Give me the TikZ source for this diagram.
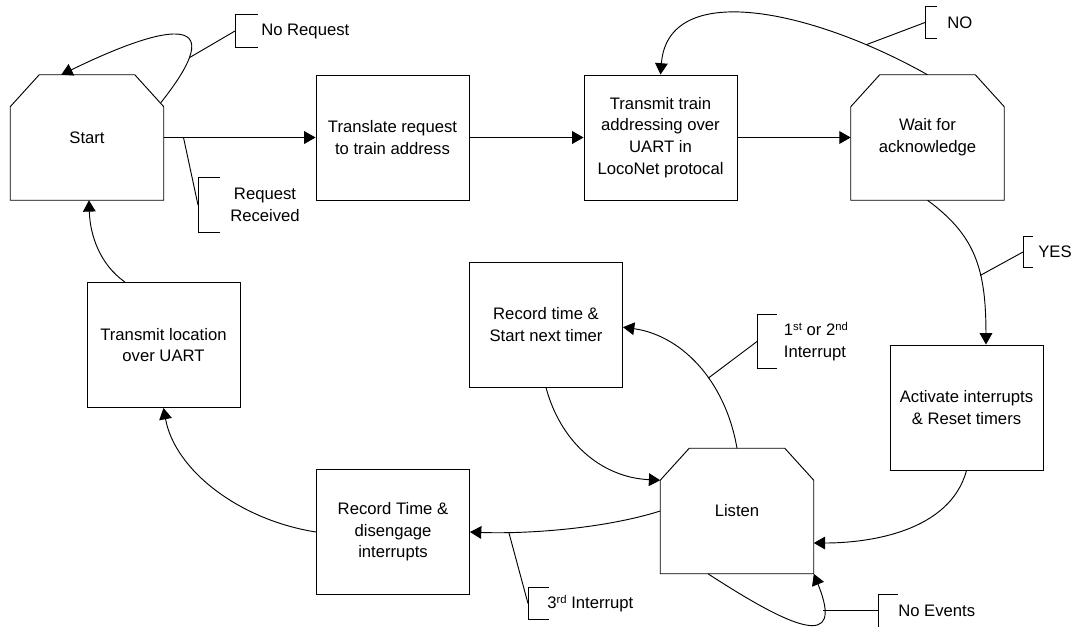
\documentclass[tikz,border=0pt]{standalone}
\usepackage{fontspec}
\setmainfont{Liberation Sans}
\usetikzlibrary{arrows.meta}
\newcommand\supr[1]{\raisebox{0.6ex}{\fontsize{8.5}{9}\selectfont #1}}
\newcommand\octdraw[1]{\draw[line] (#1.south west) -- ([yshift=-24pt]#1.north west) -- ([xshift=21.75pt]#1.north west) -- ([xshift=-21.75pt]#1.north east) -- ([yshift=-24pt]#1.north east) -- (#1.south east) -- cycle;}
\newcommand\brkt[2]{\draw[line] ([xshift=#2]#1.north west) -- (#1.north west) -- (#1.south west) -- ([xshift=#2]#1.south west);}
\begin{document}
\begin{tikzpicture}[x=0.75pt,y=-0.75pt,
  line/.style={line width=0.7pt},
  txt/.style={font=\fontsize{12.5}{16.25}\selectfont, align=center},
  state/.style={txt, line, draw, minimum width=114.75pt, minimum height=93.75pt, inner sep=0pt},
  octstate/.style={txt, minimum width=114.75pt, minimum height=93.75pt, inner sep=0pt},
  arr/.style={line, -{Triangle[length=8.5pt,width=9.5pt]}},
  lab/.style={txt, anchor=west, inner ysep=0pt}]
\useasboundingbox (0,0) rectangle (1074,626);
% states
\node[octstate] (start) at (87,137.5) {Start};
\node[state] (translate) at (392.5,137.5) {Translate request\\to train address};
\node[state] (train) at (660.5,137.5) {Transmit train\\addressing over\\UART in\\LocoNet protocal};
\node[octstate] (wait) at (927.5,137.5) {Wait for\\acknowledge};
\node[state] (activate) at (966.5,407.5) {Activate interrupts\\\& Reset timers};
\node[state] (rec) at (546,324.5) {Record time \&\\Start next timer};
\node[octstate] (listen) at (737,511) {Listen};
\node[state] (dis) at (393,532) {Record Time \&\\disengage\\interrupts};
\node[state] (loc) at (163.5,345) {Transmit location\\over UART};
\octdraw{start}
\octdraw{wait}
\octdraw{listen}
% labels
\node[lab, inner xsep=19.5pt, minimum height=24pt] (lnoreq) at (235,31) {No Request};
\node[lab, inner xsep=24pt, minimum height=40.5pt] (lreq) at (198,205) {Request\\Received};
\node[lab, inner xsep=16.5pt, minimum height=23.25pt] (lno) at (925,22.5) {NO};
\node[lab, inner xsep=11.25pt, minimum height=22.5pt] (lyes) at (1023,252) {YES};
\node[lab, inner xsep=20pt, minimum height=40pt, align=left] (lfirst) at (757,341.5) {1\supr{st} or 2\supr{nd}\\Interrupt};
\node[lab, inner xsep=14.25pt, minimum height=23.25pt] (lthird) at (528,603.5) {3\supr{rd} Interrupt};
\node[lab, inner xsep=15pt, minimum height=23.25pt] (lnoev) at (878,610.5) {No Events};
\brkt{lnoreq}{17pt}
\brkt{lreq}{16.5pt}
\brkt{lno}{9pt}
\brkt{lyes}{7.5pt}
\brkt{lfirst}{15pt}
\brkt{lthird}{15.75pt}
\draw[line] ([xshift=15pt]lnoev.north west) -- (lnoev.north west) -- ([yshift=-30pt]lnoev.north west);
% connectors
\draw[arr] ([xshift=-2.25pt,yshift=-21pt]start.north east) .. controls +(70,-88) and +(113,-55) .. coordinate[pos=0.22] (cnoreq) ([xshift=38.25pt]start.north west);
\draw[arr] (start.east) -- coordinate[pos=0.13] (creq) (translate.west);
\draw[arr] (translate.east) -- (train.west);
\draw[arr] (train.east) -- (wait.west);
\draw[arr] (wait.north) .. controls +(-117.5,-66) and +(7.5,-95) .. coordinate[pos=0.17] (cno) (train.north);
\draw[arr] (wait.south) .. controls +(47.5,35) and +(0,-76) .. coordinate[pos=0.63] (cyes) ([xshift=14.6pt]activate.north);
\draw[arr] (activate.south) .. controls +(-16.5,61) and +(56,0) .. ([yshift=-24pt]listen.east);
\draw[arr] (listen.north) .. controls +(-12,-69) and +(57.5,8) .. coordinate[pos=0.4] (cfirst) ([yshift=-2pt]rec.east);
\draw[arr] (rec.south) .. controls +(14,53) and +(-60.5,-3) .. ([yshift=-24pt]listen.north west);
\draw[arr] (listen.west) .. controls +(-60.5,19) and +(50.5,2) .. coordinate[pos=0.77] (cthird) (dis.east);
\draw[arr] (dis.west) .. controls +(-76.5,-12) and +(11.5,62.5) .. (loc.south);
\draw[arr] ([xshift=-28.9pt]loc.north) .. controls +(-25,-17.5) and +(1,35) .. ([xshift=1.5pt]start.south);
\draw[arr] ([xshift=-21.75pt]listen.south) .. controls +(87,56.5) and +(31,76.5) .. coordinate[pos=0.78] (cnoev) (listen.south east);
% leader lines
\draw[line] (cnoreq) -- (lnoreq.west);
\draw[line] (creq) -- (lreq.west);
\draw[line] (cno) -- (lno.west);
\draw[line] (cyes) -- (lyes.west);
\draw[line] (cfirst) -- (lfirst.west);
\draw[line] (cthird) -- (lthird.west);
\draw[line] (cnoev) -- (cnoev -| lnoev.west);
\end{tikzpicture}
\end{document}
